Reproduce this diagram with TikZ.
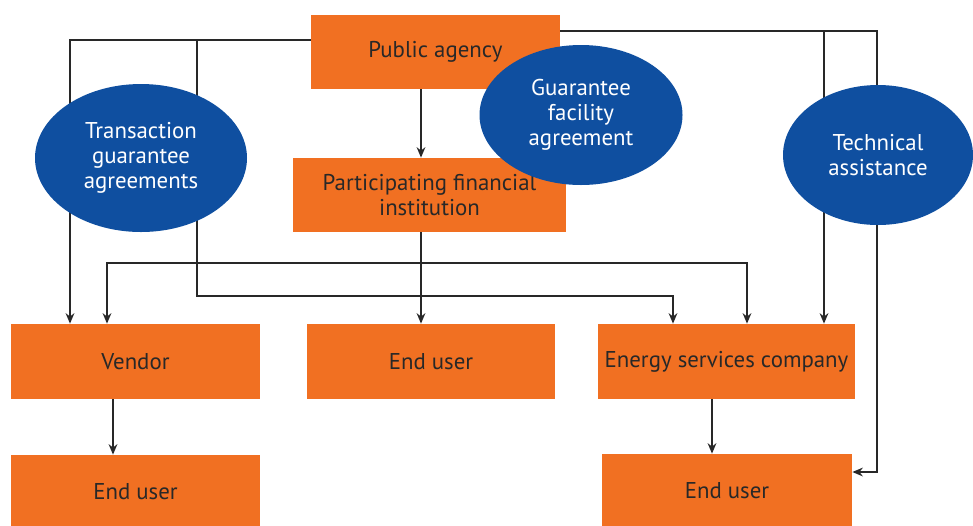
\documentclass[tikz,border=0pt]{standalone}
\usepackage{fontspec}
\setmainfont{PT Sans}
\usetikzlibrary{shapes.geometric,arrows.meta}
\definecolor{boxorange}{RGB}{241,112,34}
\definecolor{agreeblue}{RGB}{15,79,160}
\definecolor{inkgray}{RGB}{40,40,40}
\begin{document}
\begin{tikzpicture}[x=0.02cm, y=-0.02cm,
  every node/.style = {font=\fontsize{13}{14.2}\selectfont, align=center},
  box/.style = {rectangle, fill=boxorange, text=inkgray, inner sep=0pt,
    minimum height=74*0.02cm},
  agree/.style = {ellipse, fill=agreeblue, text=white, inner sep=0pt},
  link/.style = {draw=inkgray, line width=0.75pt,
    -{Stealth[length=6pt,width=5pt]}},
  ]
  \path[use as bounding box] (0,0) rectangle (973,525);
  % boxes
  \node[box, minimum width=249*0.02cm] (pa) at (435.5,52) {Public agency};
  \node[box, minimum width=273*0.02cm] (pfi) at (429.5,195)
    {Participating financial\\institution};
  \node[box, minimum width=249*0.02cm, minimum height=75*0.02cm] (vendor) at (135.5,361.5) {Vendor};
  \node[box, minimum width=248*0.02cm, minimum height=75*0.02cm] (eu2) at (431,361.5) {End user};
  \node[box, minimum width=257*0.02cm, minimum height=75*0.02cm] (esco) at (726.5,361.5)
    {Energy services company};
  \node[box, minimum width=249*0.02cm] (eu1) at (135.5,492) {End user};
  \node[box, minimum width=250*0.02cm] (eu3) at (727,491) {End user};
  % connectors
  \draw[link] (pa.west |- 0,40) -| (70,0 |- vendor.north);
  \draw[link] (197,40) |- (673,296) -- (673,0 |- esco.north);
  \draw[link] (421,0 |- pa.south) -- (421,0 |- pfi.north);
  \draw[link] (421,0 |- pfi.south) -- (421,0 |- eu2.north);
  \draw[link, {Stealth[length=6pt,width=5pt]}-{Stealth[length=6pt,width=5pt]}]
    (107,0 |- vendor.north) |- (747,263) -- (747,0 |- esco.north);
  \draw[link] (pa.east |- 0,31) -| (824,0 |- esco.north);
  \draw[link] (824,31) -| (877,472) -- (eu3.east |- 0,472);
  \draw[link] (113,0 |- vendor.south) -- (113,0 |- eu1.north);
  \draw[link] (712,0 |- esco.south) -- (712,0 |- eu3.north);
  % agreements
  \node[agree, minimum width=212*0.02cm, minimum height=148*0.02cm] (tga) at (141,158)
    {Transaction\\guarantee\\agreements};
  \node[agree, minimum width=203*0.02cm, minimum height=140*0.02cm] (gfa) at (581,115)
    {Guarantee\\facility\\agreement};
  \node[agree, minimum width=190*0.02cm, minimum height=140*0.02cm] (ta) at (878,155)
    {Technical\\assistance};
\end{tikzpicture}
\end{document}
